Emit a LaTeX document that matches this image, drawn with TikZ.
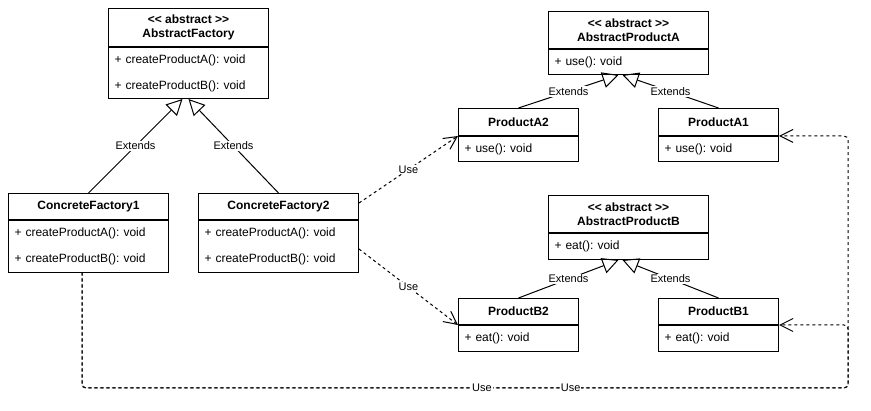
\documentclass[tikz,border=0pt]{standalone}
\usepackage{fontspec}
\setmainfont{Liberation Sans}[Ligatures=TeXOff]
\frenchspacing
\usetikzlibrary{calc,arrows.meta}
\tikzset{
  classhead/.style={draw, line width=1pt, anchor=north west, inner sep=0pt, align=center, font=\fontsize{12}{14}\selectfont\bfseries},
  classbody/.style={draw, line width=1pt, anchor=north west, inner xsep=6pt, inner ysep=0pt, align=left, font=\fontsize{12}{26}\selectfont},
  extends/.style={line width=1pt, -{Triangle[open,length=16pt,width=16pt]}},
  uses/.style={line width=1pt, dash pattern=on 3pt off 3pt, -{Straight Barb[length=13pt,width=13pt]}},
  elabel/.style={fill=white, inner sep=1pt, font=\fontsize{11}{13}\selectfont}
}

\begin{document}
\begin{tikzpicture}[x=1pt,y=-1pt]
\useasboundingbox (0,0) rectangle (871,411);
\node[classhead, minimum width=160pt, minimum height=38pt] (af) at (108,8) {<< abstract >>\\AbstractFactory};
\node[classbody, text width=148pt, minimum height=51pt] (afbody) at (af.south west) {+ createProductA(): void\\+ createProductB(): void};
\node[classhead, minimum width=160pt, minimum height=26pt] (cf1) at (8,193) {ConcreteFactory1};
\node[classbody, text width=148pt, minimum height=52pt] (cf1body) at (cf1.south west) {+ createProductA(): void\\+ createProductB(): void};
\node[classhead, minimum width=160pt, minimum height=26pt] (cf2) at (198,193) {ConcreteFactory2};
\node[classbody, text width=148pt, minimum height=52pt] (cf2body) at (cf2.south west) {+ createProductA(): void\\+ createProductB(): void};

\node[classhead, minimum width=160pt, minimum height=37pt] (apa) at (548,11) {<< abstract >>\\AbstractProductA};
\node[classbody, text width=148pt, minimum height=25pt] (apabody) at (apa.south west) {+ use(): void};
\node[classhead, minimum width=120pt, minimum height=27pt] (pa2) at (458,108) {ProductA2};
\node[classbody, text width=108pt, minimum height=25pt] (pa2body) at (pa2.south west) {+ use(): void};
\node[classhead, minimum width=120pt, minimum height=27pt] (pa1) at (658,108) {ProductA1};
\node[classbody, text width=108pt, minimum height=25pt] (pa1body) at (pa1.south west) {+ use(): void};

\node[classhead, minimum width=160pt, minimum height=37pt] (apb) at (548,195) {<< abstract >>\\AbstractProductB};
\node[classbody, text width=148pt, minimum height=26pt] (apbbody) at (apb.south west) {+ eat(): void};
\node[classhead, minimum width=120pt, minimum height=26pt] (pb2) at (458,298) {ProductB2};
\node[classbody, text width=108pt, minimum height=26pt] (pb2body) at (pb2.south west) {+ eat(): void};
\node[classhead, minimum width=120pt, minimum height=26pt] (pb1) at (658,298) {ProductB1};
\node[classbody, text width=108pt, minimum height=26pt] (pb1body) at (pb1.south west) {+ eat(): void};

\draw[extends] (cf1.north) -- node[elabel] {Extends} ($(afbody.south)+(-6,0)$);
\draw[extends] (cf2.north) -- node[elabel] {Extends} (afbody.south);
\draw[extends] (pa2.north) -- node[elabel] {Extends} ($(apabody.south)+(-10,0)$);
\draw[extends] (pa1.north) -- node[elabel] {Extends} ($(apabody.south)+(-6,0)$);
\draw[extends] (pb2.north) -- node[elabel] {Extends} ($(apbbody.south)+(-10,0)$);
\draw[extends] (pb1.north) -- node[elabel] {Extends} ($(apbbody.south)+(-6,0)$);

\draw[uses] ($(cf2.north east)+(0,10)$) -- node[elabel] {Use} (pa2.south west);
\draw[uses] ($(cf2body.north east)+(0,29)$) -- node[elabel] {Use} (pb2.south west);
\coordinate (rail) at (848,388);
\draw[uses, rounded corners=4pt] ($(cf1body.south west)+(74,0)$) |- (rail) |- (pa1.south east);
\draw[uses, rounded corners=4pt, dash phase=1pt] ($(cf1body.south west)+(74,0)$) |- (rail) |- (pb1.south east);
\path ($(cf1body.south west)+(74,0)$) |- node[elabel, pos=0.761] {Use} node[elabel, pos=0.819] {Use} (rail);
\end{tikzpicture}
\end{document}
